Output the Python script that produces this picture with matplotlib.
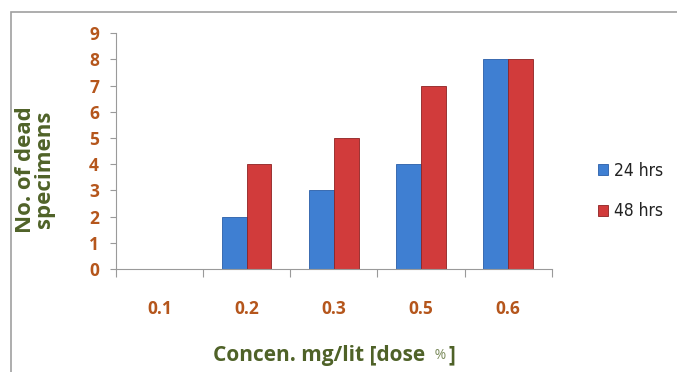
import matplotlib.pyplot as plt
import numpy as np
from matplotlib.patches import Rectangle

# data
doses = ["0.1", "0.2", "0.3", "0.5", "0.6"]
dead_24 = [0, 2, 3, 4, 8]
dead_48 = [0, 4, 5, 7, 8]

blue = "#3f7fd2"
red = "#d13b3b"
brown = "#b5561c"
green = "#4f6228"

fig = plt.figure(figsize=(6.77, 3.72), dpi=100)
ax = fig.add_axes([0.171, 0.277, 0.644, 0.634])

# outer chart frame
fig.patches.append(Rectangle((11 / 677, -0.05), 1.0, 1 - 12 / 372 + 0.05,
                             transform=fig.transFigure, fill=False,
                             edgecolor="#a0a0a0", linewidth=1.2))

x = np.arange(len(doses))
w = 0.285
ax.bar(x - w / 2, dead_24, w, color=blue, edgecolor="#2a5ea8", linewidth=0.6, label="24 hrs")
ax.bar(x + w / 2, dead_48, w, color=red, edgecolor="#8e2222", linewidth=0.6, label="48 hrs")

ax.set_xlim(-0.5, len(doses) - 0.5)
ax.set_ylim(0, 9)
ax.set_yticks(range(10))

for s in ["top", "right"]:
    ax.spines[s].set_visible(False)
for s in ["left", "bottom"]:
    ax.spines[s].set_color("#9a9a9a")

# category labels between boundary ticks
ax.set_xticks(np.arange(-0.5, len(doses)), minor=False)
ax.set_xticklabels([])
ax.set_xticks(x, minor=True)
ax.set_xticklabels(doses, minor=True)
ax.tick_params(axis="x", which="major", length=6, color="#9a9a9a")
ax.tick_params(axis="x", which="minor", length=0, pad=22)
ax.tick_params(axis="y", length=4, color="#9a9a9a", pad=8)

for lab in ax.get_xticklabels(minor=True) + ax.get_yticklabels():
    lab.set_color(brown)
    lab.set_fontweight("bold")
    lab.set_fontsize(12.5)
    lab.set_family("Open Sans")

fig.text(0.052, 0.545, "No. of dead\nspecimens", rotation=90, ha="center", va="center",
         color=green, fontsize=16, fontweight="bold", family="Open Sans", linespacing=0.85)

# x axis title built from pieces so the % can be smaller and lighter
t1 = fig.text(0.315, 0.045, "Concen. mg/lit [dose ", ha="left", va="center",
              color=green, fontsize=15, fontweight="bold", family="Open Sans")
t2 = fig.text(0, 0.045, " %", color="#7a8a5a", fontsize=10, family="Open Sans",
              va="center")
fig.canvas.draw()
inv = fig.transFigure.inverted()
x1, _ = inv.transform((t1.get_window_extent().x1, 0))
t2.set_position((x1, 0.045))
fig.canvas.draw()
x2, _ = inv.transform((t2.get_window_extent().x1, 0))
fig.text(x2 + 0.004, 0.045, "]", ha="left", va="center", color=green, fontsize=15,
         fontweight="bold", family="Open Sans")

leg = ax.legend(loc="center left", bbox_to_anchor=(1.07, 0.33), frameon=False,
                handlelength=0.6, handleheight=0.6, handletextpad=0.3,
                labelspacing=1.3,
                prop={"family": "DejaVu Sans", "stretch": "condensed", "size": 12.5})
for txt in leg.get_texts():
    txt.set_color("#222222")

fig.savefig("out.png", dpi=100)
